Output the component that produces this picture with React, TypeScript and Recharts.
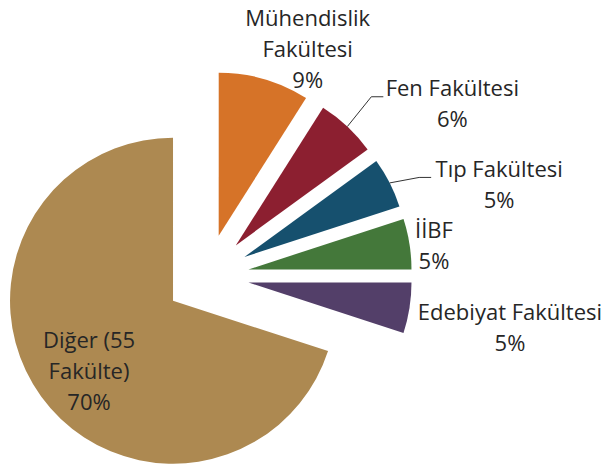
import React from 'react';
import { PieChart, Pie, Cell } from 'recharts';

// ---- data ----
const categories = [
  'Mühendislik Fakültesi',
  'Fen Fakültesi',
  'Tıp Fakültesi',
  'İİBF',
  'Edebiyat Fakültesi',
  'Diğer (55 Fakülte)',
];
const shares = [9, 6, 5, 5, 5, 70];
const nameLines = [
  ['Mühendislik', 'Fakültesi'],
  ['Fen Fakültesi'],
  ['Tıp Fakültesi'],
  ['İİBF'],
  ['Edebiyat Fakültesi'],
  ['Diğer (55', 'Fakülte)'],
];

// ---- style / layout ----
const COLORS = ['#D67328', '#8C1F30', '#16506E', '#44783A', '#533F69', '#AD8951'];
const W = 608;
const H = 464;
const CENTER_X = 207;
const CENTER_Y = 276;
const EXPLODE = 42;
const RADIUS = 163;
const FONT = '"Open Sans", "Noto Sans", sans-serif';
const FONT_SIZE = 22;
const LINE_H = 31;
const TEXT_COLOR = '#262626';

// label offsets relative to the outer arc point at the slice's mid angle
// (or to the slice's centre for inside labels)
type Layout = { dx: number; dy: number; inside?: boolean; leader?: number[][] };
const LABEL_LAYOUT: Layout[] = [
  { dx: 43.5, dy: -53 },
  { dx: 105, dy: -30.5, leader: [[24, -29.8], [36, -29.8]] },
  { dx: 109.5, dy: -5.5, leader: [[29.5, -5.5], [41.5, -5.5]] },
  { dx: 24.5, dy: -5.8 },
  { dx: 100.5, dy: 11.8 },
  { dx: -84, dy: 47.5, inside: true },
];

const RAD = Math.PI / 180;
const data = categories.map((name, i) => ({ name, value: shares[i] }));
const total = shares.reduce((a, b) => a + b, 0);

const midAngles: number[] = [];
{
  let cum = 0;
  shares.forEach((v) => {
    midAngles.push(90 - (360 * (cum + v / 2)) / total);
    cum += v;
  });
}

const makeLabel = (slice: number) => (props: any) => {
  if (props.index !== slice) return null;
  const { cx, cy, midAngle, outerRadius } = props;
  const lay = LABEL_LAYOUT[slice];
  const ox = cx + outerRadius * Math.cos(-midAngle * RAD);
  const oy = cy + outerRadius * Math.sin(-midAngle * RAD);
  const bx = lay.inside ? cx : ox;
  const by = lay.inside ? cy : oy;
  const lines = [...nameLines[slice], `${shares[slice]}%`];
  return (
    <g>
      {lay.leader && (
        <polyline
          points={[[ox, oy], ...lay.leader.map(([lx, ly]) => [ox + lx, oy + ly])]
            .map((p) => p.join(','))
            .join(' ')}
          fill="none"
          stroke="#333"
          strokeWidth={1}
        />
      )}
      {lines.map((t, k) => (
        <text
          key={k}
          x={bx + lay.dx}
          y={by + lay.dy + k * LINE_H}
          textAnchor="middle"
          fontFamily={FONT}
          fontSize={FONT_SIZE}
          fill={TEXT_COLOR}
        >
          {t}
        </text>
      ))}
    </g>
  );
};

export default function App() {
  return (
    <div style={{ position: 'absolute', left: 0, top: 0, width: W, height: H, background: '#fff' }}>
      <PieChart width={W} height={H} margin={{ top: 0, right: 0, bottom: 0, left: 0 }}>
        {shares.map((_, i) => (
          <Pie
            key={i}
            data={data}
            dataKey="value"
            nameKey="name"
            cx={CENTER_X + EXPLODE * Math.cos(midAngles[i] * RAD)}
            cy={CENTER_Y - EXPLODE * Math.sin(midAngles[i] * RAD)}
            outerRadius={RADIUS}
            innerRadius={0}
            startAngle={90}
            endAngle={-270}
            isAnimationActive={false}
            labelLine={false}
            label={makeLabel(i)}
            stroke="none"
          >
            {data.map((_, j) => (
              <Cell key={j} fill={j === i ? COLORS[j] : 'none'} stroke="none" />
            ))}
          </Pie>
        ))}
      </PieChart>
    </div>
  );
}
